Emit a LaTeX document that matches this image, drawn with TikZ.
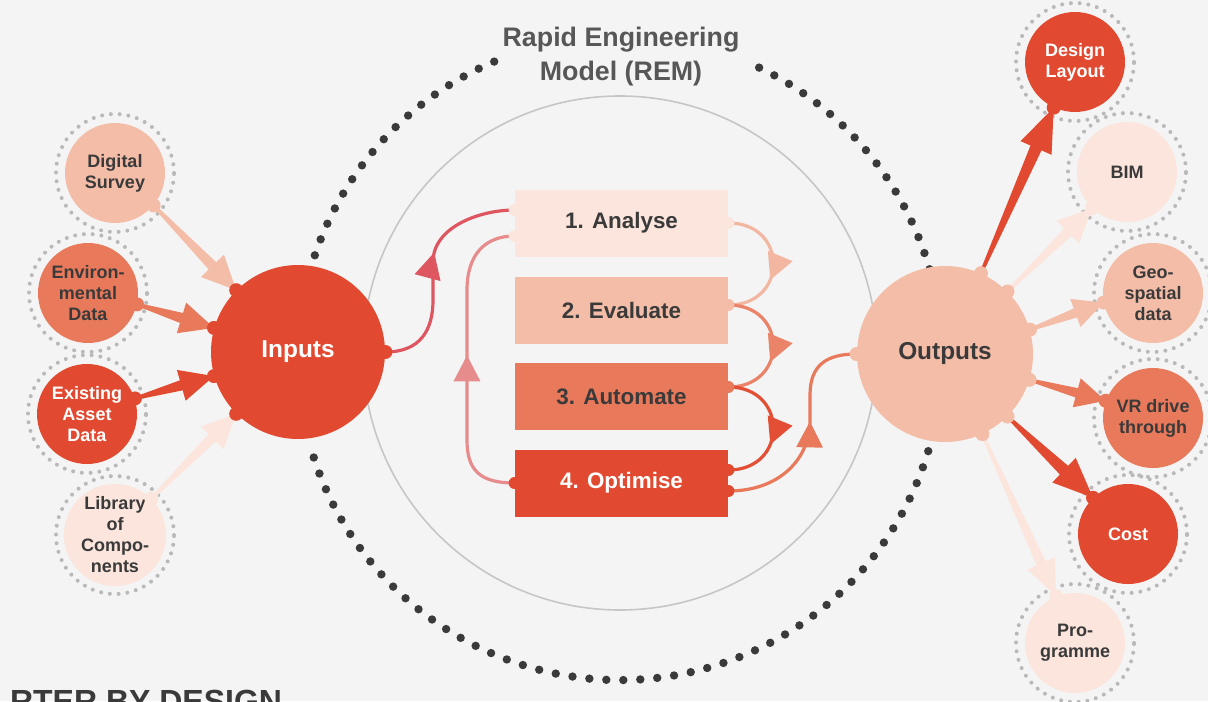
\documentclass[tikz,border=0pt]{standalone}
\usepackage{fontspec}
\setmainfont{Liberation Sans}
\usetikzlibrary{calc,arrows.meta,decorations.markings}

\definecolor{rouge}{HTML}{E14A30}
\definecolor{saumon}{HTML}{E8795B}
\definecolor{peche}{HTML}{F4BDA8}
\definecolor{rose}{HTML}{FBE5DC}
\definecolor{framboise}{HTML}{DE5660}
\definecolor{vieuxrose}{HTML}{E68C8C}
\definecolor{fond}{HTML}{F4F4F4}
\definecolor{texte}{HTML}{3A3A3A}

\tikzset{
  bulle/.style={circle, minimum size=50pt, inner sep=0pt, align=center,
    font=\bfseries\fontsize{9}{10.5}\selectfont, text=texte},
  gros/.style={circle, minimum size=87pt, inner sep=0pt,
    font=\bfseries\fontsize{12.2}{14}\selectfont},
  etape/.style={rectangle, minimum width=106.5pt, minimum height=33.5pt, inner sep=0pt,
    font=\bfseries\fontsize{11.2}{13}\selectfont, text=texte},
  anneau/.style={draw=gray!55, line width=2pt, line cap=round, dash pattern=on 0pt off 4.4pt},
  perles/.style={draw=texte, line width=4.2pt, line cap=round, dash pattern=on 0pt off 8.5pt},
  flux/.style={line width=1.6pt, postaction={decorate},
    decoration={markings, mark=at position #1 with {\arrow{Triangle[length=13pt,width=13pt]}}}},
}

% fleche en coin : couleur, depart, arrivee, long. tete, demi-larg. tete, demi-larg. col
\newcommand{\fleche}[6]{%
  \coordinate (fa) at (#2);
  \coordinate (fb) at (#3);
  \coordinate (fn) at ($(fb)!#4!(fa)$);
  \fill[#1] ($(fa)!0.8pt!90:(fb)$) -- ($(fn)!#6!-90:(fa)$) -- ($(fn)!#5!-90:(fa)$) -- (fb)
    -- ($(fn)!#5!90:(fa)$) -- ($(fn)!#6!90:(fa)$) -- ($(fa)!0.8pt!-90:(fb)$) -- cycle;
}

\begin{document}
\begin{tikzpicture}[x=0.5pt,y=-0.5pt]
\path[use as bounding box, fill=fond] (0,0) rectangle (1208,701);
\clip (0,0) rectangle (1208,701);

% le modele
\coordinate (c) at (620,358);
\draw[gray!45, line width=0.8pt] (620,353) circle (128.5pt);
\draw[perles] ([shift={(113:161pt)}]c) arc[start angle=113, end angle=162, radius=161pt];
\draw[perles] ([shift={(198:161pt)}]c) arc[start angle=198, end angle=345, radius=161pt];
\draw[perles] ([shift={(16:161pt)}]c) arc[start angle=16, end angle=67, radius=161pt];
\node[align=center, font=\bfseries\fontsize{13.4}{17}\selectfont, text=texte!85] (titre) at (621,57) {Rapid Engineering\\Model (REM)};

% entrees
\node[gros, fill=rouge, text=white] (in) at (298,352) {Inputs};
\node[bulle, fill=peche] (ds) at (115,173) {Digital\\Survey};
\node[bulle, fill=saumon] (env) at (88,293) {Environ-\\mental\\Data};
\node[bulle, fill=rouge, text=white] (ex) at (87,414) {Existing\\Asset\\Data};
\node[bulle, fill=rose] (lib) at (115,535) {Library\\of\\Compo-\\nents};

% sorties
\node[gros, minimum size=88pt, fill=peche, text=texte] (out) at (945,354) {Outputs};
\node[bulle, fill=rouge, text=white] (dl) at (1075,62) {Design\\Layout};
\node[bulle, fill=rose] (bim) at (1127,172) {BIM};
\node[bulle, fill=peche] (geo) at (1153,293) {Geo-\\spatial\\data};
\node[bulle, fill=saumon] (vr) at (1153,418) {VR drive\\through};
\node[bulle, fill=rouge, text=white] (cost) at (1128,534) {Cost};
\node[bulle, fill=rose] (pro) at (1075,643) {Pro-\\gramme};

\foreach \n in {ds,env,ex,lib,dl,bim,geo,vr,cost,pro}
  \draw[anneau] (\n) circle (29.5pt);

% les etapes
\node[etape, fill=rose] (an) at (621.5,223) {1. Analyse};
\node[etape, fill=peche] (ev) at (621.5,310) {2. Evaluate};
\node[etape, fill=saumon] (au) at (621.5,396.5) {3. Automate};
\node[etape, fill=rouge, text=white] (op) at (621.5,483) {4. Optimise};

% fleches vers Inputs
\fleche{peche}{ds.-40}{in.135}{17pt}{8pt}{2.6pt}
\fleche{saumon}{env.-13}{in.164}{17pt}{8pt}{2.6pt}
\fleche{rouge}{ex.18}{in.196}{17pt}{8pt}{2.6pt}
\fleche{rose}{lib.45}{in.225}{17pt}{8pt}{2.6pt}

% fleches depuis Outputs
\fleche{rouge}{out.66}{dl.-115}{22pt}{8.5pt}{3pt}
\fleche{rose}{out.45}{bim.226}{17pt}{8pt}{2.6pt}
\fleche{peche}{out.16}{geo.191}{15pt}{7.5pt}{2.4pt}
\fleche{saumon}{out.-17}{vr.160}{15pt}{7.5pt}{2.4pt}
\fleche{rouge}{out.-45}{cost.134}{20pt}{8.5pt}{3pt}
\fleche{rose}{out.-65}{pro.112}{18pt}{7.5pt}{2.5pt}

% boucles
\draw[flux=0.57, framboise] (in.east) .. controls +(35,0) and +(0,30) .. (433,300) -- (433,262)
  .. controls +(0,-35) and +(-35,0) .. ($(an.west)+(0,-13)$);
\draw[flux=0.52, vieuxrose] (op.west) .. controls +(-35,0) and +(0,30) .. (467,440) -- (467,290)
  .. controls +(0,-35) and +(-30,0) .. ($(an.west)+(0,13)$);
\draw[flux=0.62, peche!90!saumon] (an.east) .. controls +(60,0) and +(60,0) .. ($(ev.east)+(0,-5)$);
\draw[flux=0.62, saumon!85!peche] ($(ev.east)+(0,-5)$) .. controls +(60,0) and +(60,0) .. ($(au.east)+(0,-9.5)$);
\draw[flux=0.62, rouge!90!saumon] ($(au.east)+(0,-9.5)$) .. controls +(60,0) and +(60,0) .. ($(op.east)+(0,-13)$);
\draw[flux=0.55, saumon] ($(op.east)+(0,8)$) .. controls +(50,0) and +(0,40) .. (810,420) -- (810,395)
  .. controls +(0,-30) and +(-30,0) .. (out.west);

% petits noeuds d'accroche
\foreach \a in {135,164,196,225,0} \fill[rouge] (in.\a) circle (3.5pt);
\foreach \a in {180,66,45,16,-17,-45,-65} \fill[peche] (out.\a) circle (3.5pt);
\foreach \n/\a/\c in {ds/-40/peche, env/-13/saumon, ex/18/rouge, lib/45/rose,
  dl/-115/rouge, bim/226/rose, geo/191/peche, vr/160/saumon, cost/134/rouge, pro/112/rose}
  \fill[\c] (\n.\a) circle (3.5pt);
\fill[rose] (an.east) circle (3pt) ($(an.west)+(0,-13)$) circle (3pt) ($(an.west)+(0,13)$) circle (3pt);
\fill[peche] ($(ev.east)+(0,-5)$) circle (3pt);
\fill[saumon] ($(au.east)+(0,-9.5)$) circle (3pt);
\fill[rouge] ($(op.east)+(0,-13)$) circle (3pt) ($(op.east)+(0,8)$) circle (3pt) (op.west) circle (3pt);

\node[anchor=base west, font=\bfseries\fontsize{16}{16}\selectfont, text=texte] (slogan) at (3,712) {RTER BY DESIGN};
\end{tikzpicture}
\end{document}
